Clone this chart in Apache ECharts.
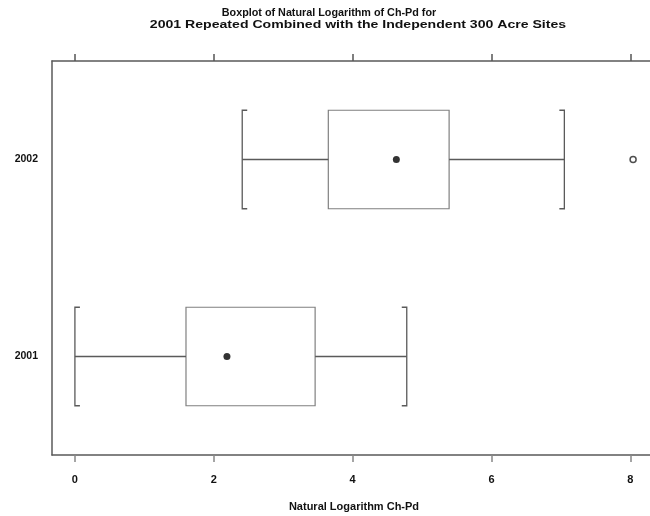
<!DOCTYPE html>
<html>
<head>
<meta charset="utf-8">
<style>
  html, body { margin: 0; padding: 0; background: #ffffff; }
  #chart { width: 650px; height: 516px; }
</style>
<script src="https://cdn.jsdelivr.net/npm/echarts@6/dist/echarts.min.js"></script>
</head>
<body>
<div id="chart"></div>
<script>
// Boxplot summaries of ln(Ch-Pd), one row per year
const categories = ['2001', '2002'];
const lowWhisker = [0.00, 2.41];
const q1 = [1.60, 3.65];
const median = [2.19, 4.63];
const q3 = [3.46, 5.39];
const highWhisker = [4.78, 7.05];
const outlierCategory = ['2002'];
const outlierValue = [8.04];
const tickValues = [0, 2, 4, 6, 8];
const titleLines = [
  'Boxplot of Natural Logarithm of Ch-Pd for',
  '2001 Repeated Combined with the Independent 300 Acre Sites'
];

const lineColor = '#5a5a5a';
const boxColor = '#808080';
const fontFamily = '"Liberation Sans", Arial, sans-serif';

const boxData = categories.map((c, i) => [i, lowWhisker[i], q1[i], median[i], q3[i], highWhisker[i]]);

function renderBox(params, api) {
  const cat = api.value(0);
  const lo = api.coord([api.value(1), cat]);
  const b1 = api.coord([api.value(2), cat]);
  const b3 = api.coord([api.value(4), cat]);
  const hi = api.coord([api.value(5), cat]);
  const half = api.size([0, 1])[1] * 0.25;
  const cy = lo[1];
  const serif = 5;
  const lineStyle = { stroke: lineColor, lineWidth: 1.3, fill: null };
  return {
    type: 'group',
    children: [
      { type: 'rect', shape: { x: b1[0], y: cy - half, width: b3[0] - b1[0], height: 2 * half },
        style: { stroke: boxColor, lineWidth: 1.2, fill: '#ffffff' } },
      { type: 'line', shape: { x1: lo[0], y1: cy, x2: b1[0], y2: cy }, style: lineStyle },
      { type: 'line', shape: { x1: b3[0], y1: cy, x2: hi[0], y2: cy }, style: lineStyle },
      { type: 'polyline', shape: { points: [[lo[0] + serif, cy - half], [lo[0], cy - half], [lo[0], cy + half], [lo[0] + serif, cy + half]] },
        style: lineStyle },
      { type: 'polyline', shape: { points: [[hi[0] - serif, cy - half], [hi[0], cy - half], [hi[0], cy + half], [hi[0] - serif, cy + half]] },
        style: lineStyle }
    ]
  };
}

const xMin = -0.33, xMax = 8.37;
const titleFont = 'bold 11px "Liberation Sans", Arial, sans-serif';

const chart = echarts.init(document.getElementById('chart'), null, { renderer: 'canvas' });
chart.setOption({
  animation: false,
  backgroundColor: '#ffffff',
  graphic: [
    {
      type: 'text', x: 329, y: 13, scaleX: 0.98,
      style: { text: titleLines[0], font: titleFont, fill: '#111', align: 'center', verticalAlign: 'middle' }
    },
    {
      type: 'text', x: 358, y: 25, scaleX: 1.28,
      style: { text: titleLines[1], font: titleFont, fill: '#111', align: 'center', verticalAlign: 'middle' }
    }
  ],
  grid: { left: 52, top: 61, width: 604, bottom: 61, outerBoundsMode: 'none', containLabel: false },
  xAxis: [
    {
      type: 'value', position: 'bottom', min: xMin, max: xMax,
      name: 'Natural Logarithm Ch-Pd', nameLocation: 'middle', nameGap: 46,
      nameTextStyle: { fontFamily, fontSize: 11, fontWeight: 'bold', color: '#111' },
      axisLine: { show: true, lineStyle: { color: lineColor, width: 1.5 } },
      axisTick: { show: true, length: 7, customValues: tickValues, lineStyle: { color: '#888', width: 1.5 } },
      axisLabel: { customValues: tickValues, margin: 19, fontFamily, fontSize: 11, fontWeight: 'bold', color: '#111' },
      splitLine: { show: false }
    },
    {
      type: 'value', position: 'top', min: xMin, max: xMax,
      axisLine: { show: true, lineStyle: { color: lineColor, width: 1.5 } },
      axisTick: { show: true, length: 7, customValues: tickValues, lineStyle: { color: '#555', width: 1.5 } },
      axisLabel: { show: false },
      splitLine: { show: false }
    }
  ],
  yAxis: {
    type: 'category', data: categories,
    axisLine: { show: true, onZero: false, lineStyle: { color: lineColor, width: 1.5 } },
    axisTick: { show: false },
    axisLabel: { margin: 14, fontFamily, fontSize: 10.5, fontWeight: 'bold', color: '#111' }
  },
  series: [
    {
      type: 'custom', xAxisIndex: 0, renderItem: renderBox,
      encode: { x: [1, 2, 3, 4, 5], y: 0 },
      data: boxData, z: 2
    },
    {
      type: 'scatter', xAxisIndex: 0, symbol: 'circle', symbolSize: 7,
      itemStyle: { color: '#000' },
      data: categories.map((c, i) => [median[i], i]), z: 3
    },
    {
      type: 'scatter', xAxisIndex: 0, symbol: 'circle', symbolSize: 6,
      itemStyle: { color: '#ffffff', borderColor: '#222', borderWidth: 1.5 },
      data: outlierValue.map((v, i) => [v, categories.indexOf(outlierCategory[i])]), z: 3
    }
  ]
});
</script>
</body>
</html>
